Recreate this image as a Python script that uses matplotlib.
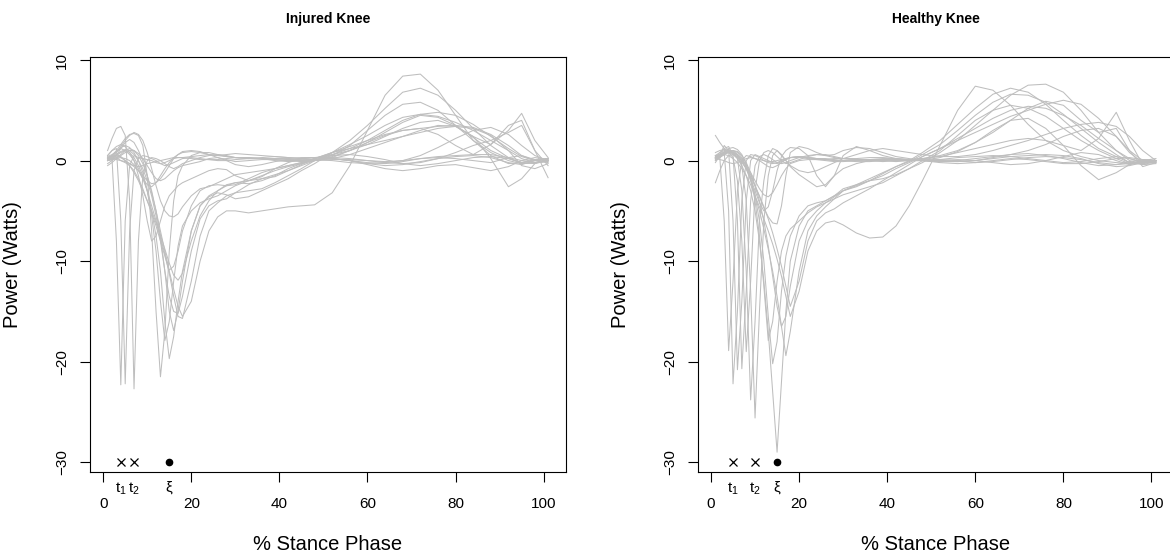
import matplotlib
matplotlib.use("Agg")
import matplotlib.pyplot as plt

plt.rcParams["font.family"] = ["Liberation Sans", "DejaVu Sans"]
plt.rcParams["mathtext.fontset"] = "custom"
plt.rcParams["mathtext.rm"] = "Liberation Sans"

# % stance phase sample positions shared by every curve
x_grid = [1, 2, 3, 4, 5, 6, 7, 8, 9, 10,
          11, 12, 13, 14, 15, 16, 17, 18, 20, 22,
          24, 26, 28, 30, 33, 36, 39, 42, 45,
          48, 52, 56, 60, 64, 68, 72, 76, 80, 84, 88, 92, 95, 98, 101]

injured = [
    [0.3, 0.2, -8, -22.3, -6, -0.5, 0.5, 0.3, 0.2, 0.1,
     0.0, -0.2, -0.3, -0.2, 0.0, 0.2, 0.3, 0.3, 0.2, 0.1,
     0.1, 0.0, 0.0, 0.1, 0.2, 0.2, 0.1, 0.0, -0.1,
     0.0, 0.1, 0.1, 0.0, -0.1, 0.0, 0.2, 0.3, 0.2, 0.0, -0.2, 0.3, 0.5, 0.1, 0.0],
    [0.5, 1.0, 1.2, -6, -22.2, -7, -1.0, 0.2, 0.5, 0.4,
     0.2, 0.0, -0.3, -0.5, -0.4, -0.2, 0.0, 0.2, 0.3, 0.2,
     0.1, 0.1, 0.2, 0.3, 0.3, 0.2, 0.0, -0.1, 0.0,
     0.1, 0.2, 0.0, -0.3, -0.5, -0.4, -0.1, 0.2, 0.4, 0.5, 0.3, -0.2, -0.4, 0.0, 0.2],
    [1.0, 2.2, 3.2, 3.4, 2.5, -4, -22.7, -8, -1.5, 0.0,
     0.3, 0.2, 0.0, -0.3, -0.6, -0.8, -0.6, -0.3, 0.0, 0.3,
     0.5, 0.6, 0.5, 0.3, 0.2, 0.3, 0.4, 0.3, 0.2,
     0.3, 0.5, 0.6, 0.4, 0.1, -0.3, -0.5, -0.3, 0.0, 0.3, 0.4, 0.2, -0.2, -0.3, 0.0],
    [0.2, 0.5, 1.0, 1.6, 2.2, 2.6, 2.7, 2.5, 1.5, -1.5,
     -7, -15, -21.5, -17, -9, -4, -1.5, -0.5, 0.5, 0.8,
     0.8, 0.6, 0.4, 0.3, 0.3, 0.2, 0.2, 0.2, 0.3,
     0.3, 0.2, 0.0, -0.2, -0.3, -0.1, 0.2, 0.4, 0.5, 0.6, 0.6, 0.3, 0.0, -0.2, -0.1],
    [0.0, 0.2, 0.5, 0.8, 1.0, 0.8, 0.3, -0.5, -1.5, -3.0,
     -5.0, -7.5, -11, -16, -19.7, -17.5, -14, -11, -7, -4.5,
     -3.5, -3.0, -2.5, -2.2, -2.0, -1.5, -1.0, -0.6, -0.3,
     0.0, 0.5, 1.5, 3.0, 4.5, 5.6, 5.8, 5.0, 3.5, 2.0, 0.8, 0.0, -0.3, -0.2, 0.0],
    [0.3, 0.5, 0.3, 0.0, -0.2, -0.5, -1.0, -1.8, -2.8, -4.0,
     -5.2, -6.5, -8.0, -9.5, -11.0, -12.8, -14.5, -15.5, -14, -10,
     -7.0, -5.6, -5.0, -5.0, -5.2, -5.0, -4.8, -4.6, -4.5,
     -4.4, -3.2, -0.5, 3.0, 6.5, 8.4, 8.6, 7.0, 4.5, 2.0, 0.5, -0.3, -0.2, 0.1, 0.2],
    [0.0, 0.1, 0.3, 0.6, 1.0, 1.2, 1.0, 0.5, -0.3, -1.5,
     -3.0, -5.0, -7.5, -11, -15, -16.9, -15, -12, -7, -4.5,
     -3.6, -3.2, -3.4, -3.8, -3.6, -3.0, -2.4, -1.8, -1.0,
     -0.3, 0.8, 2.0, 3.5, 5.2, 6.8, 7.2, 6.5, 5.0, 3.2, 1.5, 0.3, -0.3, -0.2, 0.0],
    [0.4, 0.6, 0.9, 1.2, 1.0, 0.6, 0.0, -0.8, -1.8, -3.0,
     -4.5, -6.0, -7.6, -9.3, -11.2, -13.5, -15.5, -15.7, -12, -7.5,
     -5.0, -4.2, -3.5, -3.2, -3.0, -2.8, -2.2, -1.5, -0.8,
     0.0, 0.8, 1.6, 2.5, 3.5, 4.3, 4.6, 4.4, 3.8, 3.0, 2.0, 1.0, 0.2, -0.2, 0.0],
    [0.2, 0.4, 0.6, 0.4, 0.0, -0.5, -1.2, -2.0, -3.0, -4.0,
     -5.0, -6.2, -7.4, -8.8, -10.2, -11.4, -11.9, -11.2, -8, -5.5,
     -4.0, -3.0, -2.4, -2.2, -2.3, -2.0, -1.5, -0.8, -0.3,
     0.2, 0.8, 1.4, 2.0, 2.6, 3.0, 3.2, 3.4, 3.5, 3.3, 2.6, 1.5, 0.5, 0.0, 0.1],
    [-0.3, 0.0, 0.5, 1.2, 1.8, 2.1, 1.8, 1.0, 0.0, -1.5,
     -3.2, -5.0, -7.0, -9.0, -10.9, -10.5, -9.0, -7.0, -4.5, -3.0,
     -2.5, -2.4, -2.5, -2.4, -1.8, -1.2, -0.8, -0.5, -0.2,
     0.2, 0.6, 1.0, 1.6, 2.4, 3.2, 3.8, 4.0, 3.4, 2.4, 1.6, 3.0, 4.7, 2.0, 0.3],
    [0.2, 0.5, 0.9, 1.3, 1.5, 1.3, 0.8, 0.0, -1.2, -3.0,
     -5.5, -9.0, -14, -17.9, -16, -12, -8.5, -6.5, -5.0, -4.2,
     -3.8, -3.5, -3.0, -2.5, -2.0, -1.8, -1.6, -1.0, -0.4,
     0.2, 0.8, 1.2, 1.6, 2.0, 2.4, 2.8, 3.2, 3.4, 3.2, 2.5, 1.0, -0.5, -0.8, -0.3],
    [0.1, 0.3, 0.6, 0.9, 1.1, 1.0, 0.6, 0.0, -0.8, -2.0,
     -3.5, -5.5, -8.0, -11, -13.5, -15.0, -15.2, -13.5, -9, -5.8,
     -4.5, -4.0, -3.8, -3.2, -2.4, -1.8, -1.4, -1.0, -0.5,
     0.0, 0.4, 1.0, 1.8, 2.8, 3.8, 4.5, 4.3, 3.5, 2.3, 1.0, 0.2, -0.2, 0.0, 0.2],
    [0.5, 1.0, 1.4, 1.6, 1.4, 0.8, 0.0, -1.5, -3.5, -6.0,
     -8.0, -7.5, -6.0, -4.5, -3.5, -3.0, -2.5, -2.2, -1.8, -1.4,
     -1.0, -0.8, -0.9, -1.5, -2.0, -1.6, -0.8, -0.2, 0.2,
     0.3, 0.3, 0.2, 0.0, -0.2, -0.3, -0.2, 0.2, 0.8, 1.5, 2.0, 2.8, 3.5, 1.0, -0.5],
    [0.2, 0.2, 0.1, 0.0, -0.1, -0.3, -0.6, -1.0, -1.5, -2.0,
     -2.3, -2.2, -1.8, -1.2, -0.5, 0.2, 0.6, 0.8, 0.9, 0.8,
     0.6, 0.5, 0.6, 0.7, 0.6, 0.5, 0.4, 0.3, 0.2,
     0.1, 0.0, -0.2, -0.3, -0.2, 0.0, 0.5, 1.3, 2.2, 3.0, 3.3, 2.6, 1.5, 0.5, 0.0],
    [0.0, 0.1, 0.2, 0.3, 0.2, 0.0, -0.4, -1.0, -1.8, -2.4,
     -2.6, -2.2, -1.5, -0.8, -0.2, 0.3, 0.6, 0.9, 1.0, 0.9,
     0.6, 0.3, 0.1, -0.1, 0.0, 0.1, 0.1, 0.0, 0.0,
     0.1, 0.2, 0.0, -0.4, -0.8, -1.0, -0.8, -0.5, -0.4, -0.7, -1.0, -0.6, 0.0, 0.3, 0.1],
    [-0.5, -0.2, 0.2, 0.5, 0.8, 1.0, 1.0, 0.7, 0.2, -0.5,
     -1.2, -1.8, -2.0, -1.8, -1.4, -1.0, -0.7, -0.5, -0.3, -0.1,
     0.2, 0.3, 0.0, -0.4, -0.6, -0.4, -0.1, 0.1, 0.1,
     0.1, 0.2, 0.6, 1.2, 1.8, 2.4, 3.0, 3.5, 3.4, 2.4, 0.2, -2.6, -1.8, -0.3, 0.2],
    [0.3, 0.4, 0.5, 0.3, 0.0, -0.3, -0.5, -0.6, -0.5, -0.3,
     -0.2, -0.1, 0.0, 0.1, 0.2, 0.3, 0.3, 0.3, 0.4, 0.5,
     0.6, 0.5, 0.4, 0.3, 0.2, 0.2, 0.2, 0.1, 0.0,
     0.0, 0.3, 1.0, 1.8, 2.5, 3.0, 3.2, 2.6, 1.5, 0.6, 1.6, 3.5, 4.0, 1.0, -1.7],
    [0.0, 0.3, 0.8, 1.4, 2.0, 2.5, 2.8, 2.6, 2.0, 0.8,
     -0.8, -2.5, -4.0, -5.0, -5.5, -5.6, -5.3, -4.6, -3.5, -2.8,
     -2.6, -2.2, -1.8, -1.4, -1.2, -1.0, -0.8, -0.5, -0.2,
     0.2, 0.6, 1.2, 2.0, 3.0, 4.0, 4.6, 4.8, 4.5, 3.6, 2.4, 1.2, 0.4, 0.0, -0.2],
]

healthy = [
    [0.5, 0.3, -6, -18.9, -12, -3, 0.0, 0.5, 0.4, 0.2,
     0.1, 0.0, -0.1, -0.1, 0.0, 0.1, 0.2, 0.3, 0.4, 0.3,
     0.2, 0.1, 0.0, 0.0, 0.1, 0.1, 0.0, -0.1, 0.0,
     0.1, 0.0, -0.1, 0.0, 0.2, 0.4, 0.5, 0.6, 0.5, 0.2, -0.3, -0.6, -0.5, -0.2, 0.0],
    [0.2, 0.6, 0.8, -5, -22.2, -15, -4, 0.0, 0.6, 0.5,
     0.3, 0.0, -0.2, -0.3, -0.2, 0.0, 0.2, 0.3, 0.3, 0.2,
     0.1, 0.1, 0.2, 0.2, 0.1, 0.0, -0.1, 0.0, 0.1,
     0.2, 0.1, 0.0, -0.2, -0.1, 0.1, 0.3, 0.4, 0.3, 0.1, -0.2, -0.4, -0.3, 0.0, 0.2],
    [-0.2, 0.5, 1.5, 1.0, -6, -20.8, -14, -4, 0.0, 0.6,
     0.4, 0.2, 0.0, -0.2, -0.3, -0.1, 0.1, 0.3, 0.4, 0.3,
     0.2, 0.2, 0.1, 0.0, -0.1, -0.1, 0.0, 0.1, 0.1,
     0.0, -0.2, -0.3, -0.2, 0.0, 0.2, 0.1, -0.1, -0.3, -0.3, -0.1, 0.2, 0.3, 0.1, -0.1],
    [0.3, 0.8, 1.2, 1.4, 0.5, -6, -20.7, -13, -4, -0.5,
     0.4, 0.6, 0.4, 0.1, -0.2, -0.3, -0.2, 0.0, 0.3, 0.5,
     0.6, 0.5, 0.3, 0.2, 0.2, 0.3, 0.3, 0.2, 0.1,
     0.0, 0.1, 0.3, 0.4, 0.5, 0.4, 0.2, 0.0, -0.2, -0.1, 0.2, 0.4, 0.2, -0.1, 0.0],
    [2.5, 1.8, 1.2, 0.8, 0.3, -2, -8, -19, -12, -3,
     0.0, 0.8, 1.0, 0.8, 0.4, 0.0, -0.3, -0.2, 0.1, 0.4,
     0.6, 0.6, 0.4, 0.2, 0.1, 0.1, 0.2, 0.2, 0.1,
     0.0, -0.1, 0.0, 0.2, 0.4, 0.6, 0.7, 0.5, 0.2, -0.2, -0.5, -0.4, -0.1, 0.1, 0.0],
    [0.4, 0.6, 0.9, 1.0, 0.8, 0.2, -3, -11, -23.8, -16,
     -6, -2.0, 0.5, 1.2, 1.0, 0.5, 0.0, -0.5, -1.0, -1.2,
     -1.0, -0.6, -0.2, 0.2, 0.6, 1.0, 1.2, 1.0, 0.8,
     0.6, 0.4, 0.4, 0.6, 1.0, 1.5, 2.0, 2.6, 3.2, 3.6, 3.8, 3.4, 2.4, 1.0, 0.0],
    [0.0, 0.3, 0.7, 1.0, 1.0, 0.6, -0.5, -4, -13, -25.6,
     -15, -6, -1.5, 0.5, 1.0, 0.6, 0.0, -0.6, -1.4, -2.0,
     -2.6, -2.4, -1.5, -0.8, -0.3, 0.0, 0.1, 0.1, 0.0,
     0.0, 0.0, 0.1, 0.0, -0.2, -0.4, -0.3, 0.0, 0.4, 0.8, 0.6, 0.0, -0.4, -0.2, 0.0],
    [0.3, 0.5, 0.7, 0.8, 0.6, 0.2, -0.5, -1.5, -3.0, -5.0,
     -8, -12, -17, -23, -29, -22, -15, -10, -6.5, -5.0,
     -4.5, -4.0, -3.5, -3.0, -2.5, -2.0, -1.5, -0.8, -0.2,
     0.4, 1.2, 2.2, 3.2, 4.2, 5.0, 5.4, 5.2, 4.5, 3.5, 2.2, 1.0, 0.2, -0.2, 0.0],
    [0.1, 0.4, 0.8, 1.2, 1.3, 1.1, 0.6, -0.3, -1.8, -4.0,
     -7.5, -12.5, -17.9, -16, -12, -9, -7.5, -6.8, -6.0, -5.2,
     -4.6, -4.2, -3.8, -3.4, -3.0, -2.6, -2.2, -1.5, -0.8,
     0.0, 1.0, 2.5, 4.0, 5.0, 5.5, 5.2, 4.4, 3.2, 2.0, 1.0, 0.2, -0.3, -0.2, 0.0],
    [0.3, 0.5, 0.7, 0.9, 1.0, 0.8, 0.3, -0.5, -1.8, -3.5,
     -6.0, -10.0, -15.5, -20.2, -18, -13, -9.5, -7.5, -5.5, -4.5,
     -4.2, -4.0, -3.5, -2.8, -2.4, -2.0, -1.8, -1.4, -0.8,
     -0.2, 0.8, 2.0, 3.5, 5.0, 6.5, 7.5, 7.6, 6.8, 5.0, 2.8, 1.0, 0.0, -0.3, 0.0],
    [0.5, 0.8, 1.0, 1.1, 0.9, 0.5, 0.0, -0.8, -2.0, -3.5,
     -5.0, -6.8, -8.8, -11, -13.5, -16.5, -19.4, -17, -11, -7,
     -5.5, -4.6, -3.8, -3.0, -2.4, -1.8, -1.2, -0.6, -0.1,
     0.6, 1.6, 3.0, 4.5, 5.8, 6.6, 6.5, 5.8, 4.6, 3.2, 1.8, 0.6, -0.2, -0.4, -0.1],
    [0.0, 0.3, 0.6, 0.9, 1.0, 0.9, 0.5, -0.2, -1.2, -2.5,
     -4.0, -6.0, -8.5, -11.5, -14.5, -16.5, -15.5, -12.5, -8, -6,
     -5.0, -4.2, -3.6, -3.0, -2.6, -2.0, -1.3, -0.6, 0.0,
     0.8, 2.0, 3.6, 5.2, 6.6, 7.2, 6.8, 5.6, 4.0, 2.5, 1.2, 0.4, -0.2, -0.3, 0.0],
    [0.3, 0.5, 0.6, 0.5, 0.2, -0.2, -0.8, -1.5, -2.4, -3.5,
     -4.6, -5.8, -7.0, -8.3, -9.8, -11.5, -13.5, -15.5, -13, -9,
     -7.0, -6.2, -6.0, -6.4, -7.2, -7.7, -7.6, -6.5, -4.5,
     -2.0, 1.5, 5.0, 7.4, 7.0, 5.5, 3.6, 2.0, 1.0, 0.4, 0.0, -0.2, -0.3, -0.1, 0.0],
    [0.8, 1.0, 1.1, 1.0, 0.7, 0.3, -0.2, -0.8, -1.6, -2.5,
     -3.5, -4.6, -5.8, -7.2, -8.8, -10.5, -12.5, -14.5, -12, -8,
     -6.0, -5.2, -4.8, -4.2, -3.5, -2.8, -2.0, -1.2, -0.4,
     0.4, 1.2, 2.0, 2.8, 3.6, 4.4, 5.0, 5.6, 6.0, 5.6, 4.2, 2.4, 0.8, -0.2, -0.2],
    [0.5, 0.6, 0.8, 0.9, 0.8, 0.6, 0.2, -0.5, -1.4, -2.5,
     -3.6, -4.7, -5.6, -6.2, -6.3, -4.5, -1.5, 0.8, 1.4, 1.2,
     0.8, 0.5, 0.6, 1.0, 1.3, 1.2, 0.8, 0.4, 0.2,
     0.0, -0.1, -0.1, 0.0, 0.3, 0.6, 1.0, 1.6, 2.4, 3.0, 3.2, 2.4, 1.0, 0.0, -0.2],
    [0.2, 0.4, 0.6, 0.8, 0.8, 0.5, 0.0, -0.8, -1.8, -3.0,
     -4.2, -5.0, -4.6, -3.0, -1.0, 0.4, 1.0, 1.3, 1.2, 0.5,
     -1.5, -2.6, -1.5, 0.5, 1.4, 1.0, 0.5, 0.2, 0.0,
     0.2, 0.4, 0.8, 1.2, 1.6, 2.0, 2.2, 2.0, 1.5, 1.0, 2.2, 4.8, 2.0, -0.4, -0.3],
    [-2.2, -1.0, 0.0, 0.5, 0.6, 0.4, 0.0, -0.5, -1.2, -2.0,
     -2.8, -3.4, -3.6, -3.2, -2.4, -1.5, -0.8, -0.3, 0.0, 0.1,
     0.1, 0.0, -0.1, -0.1, 0.0, 0.1, 0.1, 0.0, 0.0,
     0.0, 0.3, 0.9, 1.8, 3.0, 4.0, 4.2, 3.2, 1.5, -0.5, -1.9, -1.2, -0.4, 0.1, 0.0],
    [0.2, 0.1, 0.0, -0.2, -0.3, -0.2, 0.0, 0.2, 0.3, 0.2,
     0.0, -0.3, -0.6, -0.7, -0.5, -0.2, 0.1, 0.3, 0.4, 0.3,
     0.2, 0.1, 0.0, 0.0, 0.0, 0.1, 0.1, 0.1, 0.1,
     0.2, 0.5, 1.0, 1.8, 2.8, 4.0, 5.2, 5.9, 5.5, 4.0, 2.8, 3.2, 1.0, -0.6, -0.2],
]

# landmark positions marked below the curves
injured_marks = [4, 7, 15]
healthy_marks = [5, 10, 15]
mark_labels = [r"$\mathregular{t_1}$", r"$\mathregular{t_2}$", "ξ"]
mark_level = -30

panels = [("Injured Knee", injured, injured_marks),
          ("Healthy Knee", healthy, healthy_marks)]

fig = plt.figure(figsize=(11.7, 5.55), dpi=100)
lefts = [0.0769, 0.5964]

for (title, curves, marks), left in zip(panels, lefts):
    ax = fig.add_axes([left, 0.149, 0.4066, 0.7488])
    for c in curves:
        ax.plot(x_grid, c, color="#BEBEBE", lw=0.75)
    ax.plot(marks[:2], [mark_level] * 2, "x", color="black", ms=6, mew=0.9)
    ax.plot(marks[2:], [mark_level], "o", color="black", ms=4.5)
    ax.set_xlim(-3, 105)
    ax.set_ylim(-31.0, 10.33)
    ax.set_xticks([0, 20, 40, 60, 80, 100])
    ax.set_yticks([-30, -20, -10, 0, 10])
    ax.tick_params(axis="both", length=7, width=0.8, labelsize=11)
    ax.tick_params(axis="x", pad=11)
    ax.tick_params(axis="y", pad=8, labelrotation=90)
    for lab in ax.get_yticklabels():
        lab.set_va("center")
    for sp in ax.spines.values():
        sp.set_linewidth(0.8)
    for xm, txt in zip(marks, mark_labels):
        ax.text(xm, -0.02, txt, transform=ax.get_xaxis_transform(),
                ha="center", va="top", fontsize=11)
    ax.set_title(title, fontsize=10, fontweight="bold", pad=24)
    ax.set_xlabel("% Stance Phase", fontsize=14.5, labelpad=17)
    ax.set_ylabel("Power (Watts)", fontsize=14.5, labelpad=24)

fig.savefig("out.png", dpi=100)
